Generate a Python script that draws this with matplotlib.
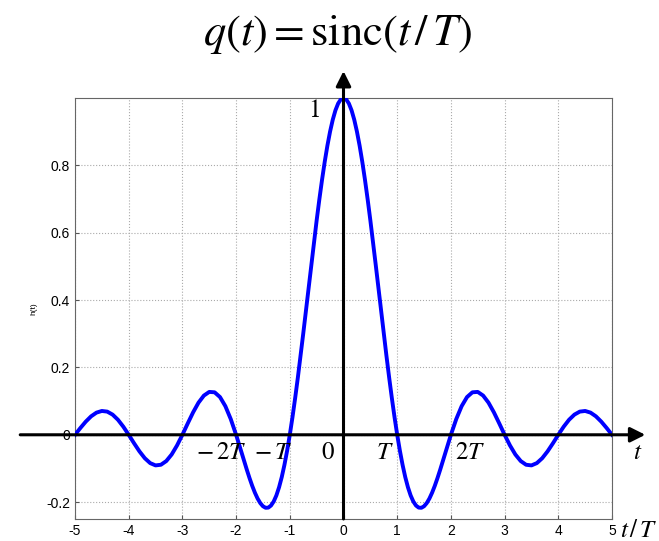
import numpy as np
import matplotlib.pyplot as plt

plt.rcParams['mathtext.fontset'] = 'stix'
plt.rcParams['font.family'] = ['Liberation Sans', 'DejaVu Sans']
plt.rcParams['axes.unicode_minus'] = False

# samples of the pulse for t/T >= 0 (finer near the main lobe)
t_half = [0.0, 0.05, 0.1, 0.15, 0.2, 0.25, 0.3, 0.35, 0.4, 0.45,
          0.5, 0.55, 0.6, 0.65, 0.7, 0.75, 0.8, 0.85, 0.9, 0.95,
          1.0, 1.05, 1.1, 1.15, 1.2, 1.25, 1.3, 1.35, 1.4, 1.45,
          1.5, 1.55, 1.6, 1.65, 1.7, 1.75, 1.8, 1.85, 1.9, 1.95,
          2.0, 2.1, 2.2, 2.3, 2.4, 2.5, 2.6, 2.7, 2.8, 2.9,
          3.0, 3.1, 3.2, 3.3, 3.4, 3.5, 3.6, 3.7, 3.8, 3.9,
          4.0, 4.1, 4.2, 4.3, 4.4, 4.5, 4.6, 4.7, 4.8, 4.9, 5.0]
q_half = [1.0, 0.9959, 0.9836, 0.9634, 0.9355, 0.9003, 0.8584, 0.8103, 0.7568, 0.6986,
          0.6366, 0.5716, 0.5046, 0.4363, 0.3679, 0.3001, 0.2339, 0.1700, 0.1093, 0.0524,
          0.0, -0.0474, -0.0894, -0.1257, -0.1559, -0.1801, -0.1981, -0.2101, -0.2162, -0.2168,
          -0.2122, -0.2028, -0.1892, -0.1719, -0.1515, -0.1286, -0.1039, -0.0781, -0.0518, -0.0255,
          0.0, 0.0468, 0.0850, 0.1120, 0.1261, 0.1273, 0.1164, 0.0954, 0.0668, 0.0339,
          0.0, -0.0317, -0.0585, -0.0780, -0.0890, -0.0909, -0.0841, -0.0696, -0.0492, -0.0252,
          0.0, 0.0240, 0.0446, 0.0599, 0.0688, 0.0707, 0.0658, 0.0548, 0.0390, 0.0201, 0.0]

# even pulse: mirror around zero
t = [-v for v in t_half[:0:-1]] + t_half
q = q_half[:0:-1] + q_half

xticks = [-5, -4, -3, -2, -1, 0, 1, 2, 3, 4, 5]
yticks = [-0.2, 0, 0.2, 0.4, 0.6, 0.8]

fig = plt.figure(figsize=(6.59, 5.41), dpi=100)
ax = fig.add_axes([0.1138, 0.0407, 0.8149, 0.7782])

ax.plot(t, q, color='blue', lw=2.8, zorder=4, solid_joinstyle='round')
ax.set_xlim(-5, 5)
ax.set_ylim(-0.25, 1.0)
ax.set_xticks(xticks)
ax.set_yticks(yticks)
ax.set_yticklabels(['-0.2', '0', '0.2', '0.4', '0.6', '0.8'])
ax.tick_params(labelsize=10, length=3, direction='in', color='#555555')
ax.grid(True, ls=':', color='#aaaaaa', lw=0.8)
for s in ax.spines.values():
    s.set_color('#666666')
ax.set_ylabel('h(t)', fontsize=6, labelpad=6)

# coordinate axes with arrowheads
arrow = dict(arrowstyle='-|>,head_length=0.9,head_width=0.45', color='black', lw=2.2, shrinkA=0, shrinkB=0)
ax.annotate('', xy=(5.62, 0), xytext=(-6.02, 0), arrowprops=arrow, annotation_clip=False, zorder=5)
ax.annotate('', xy=(0, 1.08), xytext=(0, -0.25), arrowprops=arrow, annotation_clip=False, zorder=5)

tfont = dict(fontsize=18, zorder=6, ha='center', va='center')
ax.text(-2.28, -0.05, r'$-\,2T$', **tfont)
ax.text(-1.31, -0.05, r'$-\,T$', **tfont)
ax.text(-0.29, -0.05, r'$0$', **tfont)
ax.text(0.77, -0.05, r'$T$', **tfont)
ax.text(2.36, -0.05, r'$2T$', **tfont)
ax.text(-0.55, 0.965, r'$1$', **tfont)
ax.text(5.47, -0.05, r'$t$', **tfont)
ax.text(5.5, -0.282, r'$t\,/\,T$', **tfont)

fig.text(0.512, 0.937, r'$q(t) = \mathrm{sinc}(t\,/\,T)$', fontsize=32, ha='center', va='center')

fig.savefig('out.png', dpi=100)
